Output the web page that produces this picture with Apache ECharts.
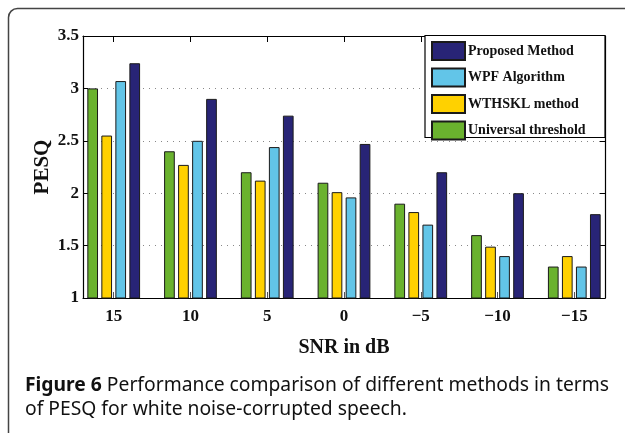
<!DOCTYPE html>
<html>
<head>
<meta charset="utf-8">
<script src="https://cdn.jsdelivr.net/npm/echarts@6/dist/echarts.min.js"></script>
<style>
  html, body { margin: 0; padding: 0; background: #fff; }
  #chart { width: 625px; height: 433px; }
</style>
</head>
<body>
<div id="chart"></div>
<script>
// SNR levels (dB), left to right
var snrLabels = ['15', '10', '5', '0', '\u22125', '\u221210', '\u221215']
var snrPos = [1, 2, 3, 4, 5, 6, 7]

// PESQ
var universalThreshold = [3.00, 2.40, 2.20, 2.10, 1.90, 1.60, 1.30]
var wthsklMethod = [2.55, 2.27, 2.12, 2.01, 1.82, 1.49, 1.40]
var wpfAlgorithm = [3.07, 2.50, 2.44, 1.96, 1.70, 1.40, 1.30]
var proposedMethod = [3.24, 2.90, 2.74, 2.47, 2.20, 2.00, 1.80]

var yTicks = [1, 1.5, 2, 2.5, 3, 3.5]

var serif = '"Liberation Serif", "Times New Roman", serif'

function pairs (vals) {
  return vals.map(function (v, i) { return [snrPos[i], v] })
}

function barSeries (name, vals, color) {
  return {
    name: name,
    type: 'bar',
    data: pairs(vals),
    barWidth: 10.7,
    barGap: '31%',
    itemStyle: { color: color, borderColor: '#1a1a1a', borderWidth: 1, borderJoin: 'miter' }
  }
}

var chart = echarts.init(document.getElementById('chart'))

var xCommon = {
  type: 'value',
  min: 0.6,
  max: 7.4,
  splitLine: { show: false },
  axisLine: { show: true, lineStyle: { color: '#000', width: 1.2 } }
}

var option = {
  animation: false,
  backgroundColor: '#fff',
  grid: { left: 83, right: 20, top: 36, bottom: 135, containLabel: false },
  title: {
    left: 25,
    top: 374,
    padding: 0,
    text: '{b|Figure 6} Performance comparison of different methods in terms\nof PESQ for white noise-corrupted speech.',
    textStyle: {
      fontFamily: '"Noto Sans", sans-serif',
      fontSize: 19.3,
      fontWeight: 'normal',
      color: '#111',
      lineHeight: 24,
      rich: {
        b: { fontFamily: '"Noto Sans", sans-serif', fontSize: 19.3, fontWeight: 'bold', color: '#111', lineHeight: 24 }
      }
    }
  },
  legend: {
    orient: 'vertical',
    left: 431,
    top: 41,
    itemWidth: 33,
    itemHeight: 18,
    itemGap: 6.5,
    padding: 0,
    icon: 'rect',
    itemStyle: { borderJoin: 'miter' },
    z: 5,
    data: ['Proposed Method', 'WPF Algorithm', 'WTHSKL method', 'Universal threshold'],
    textStyle: { fontFamily: serif, fontWeight: 'bold', fontSize: 14, color: '#111', padding: [0, 0, 0, -2] }
  },
  graphic: [
    {
      type: 'rect',
      z: 4,
      shape: { x: 425, y: 35.5, width: 180, height: 102 },
      style: { fill: '#fff', stroke: '#000', lineWidth: 1.2 }
    },
    {
      type: 'rect',
      z: 0,
      silent: true,
      shape: { x: 8.5, y: 8.5, width: 800, height: 600, r: 9 },
      style: { fill: 'none', stroke: '#444', lineWidth: 1.5 }
    }
  ],
  xAxis: [
    Object.assign({}, xCommon, {
      position: 'bottom',
      name: 'SNR in dB',
      nameLocation: 'middle',
      nameGap: 40,
      nameTextStyle: { fontFamily: serif, fontWeight: 'bold', fontSize: 20, color: '#111' },
      axisTick: { show: true, inside: true, length: 6, customValues: snrPos, lineStyle: { color: '#555' } },
      axisLabel: {
        customValues: snrPos,
        margin: 10,
        fontFamily: serif,
        fontWeight: 'bold',
        fontSize: 17,
        color: '#111',
        formatter: function (v) { return snrLabels[snrPos.indexOf(v)] }
      }
    }),
    Object.assign({}, xCommon, {
      position: 'top',
      axisTick: { show: true, inside: true, length: 6, customValues: snrPos, lineStyle: { color: '#000' } },
      axisLabel: { show: false }
    })
  ],
  yAxis: [
    {
      type: 'value',
      min: yTicks[0],
      max: yTicks[yTicks.length - 1],
      interval: 0.5,
      name: 'PESQ',
      nameLocation: 'middle',
      nameGap: 30,
      nameMoveOverlap: false,
      nameRotate: 90,
      nameTextStyle: { fontFamily: serif, fontWeight: 'bold', fontSize: 21, color: '#111' },
      axisLine: { show: true, lineStyle: { color: '#000', width: 1.2 } },
      axisTick: { show: true, inside: true, length: 5, lineStyle: { color: '#000' } },
      axisLabel: { margin: 4, fontFamily: serif, fontWeight: 'bold', fontSize: 17, color: '#111' },
      splitLine: { show: true, lineStyle: { color: '#888', type: [1, 5], width: 1 } }
    },
    {
      type: 'value',
      min: yTicks[0],
      max: yTicks[yTicks.length - 1],
      interval: 0.5,
      position: 'right',
      axisLine: { show: true, lineStyle: { color: '#000', width: 1.2 } },
      axisTick: { show: true, inside: true, length: 5, lineStyle: { color: '#000' } },
      axisLabel: { show: false },
      splitLine: { show: false }
    }
  ],
  series: [
    barSeries('Universal threshold', universalThreshold, '#6ab22e'),
    barSeries('WTHSKL method', wthsklMethod, '#ffd100'),
    barSeries('WPF Algorithm', wpfAlgorithm, '#62c5e8'),
    barSeries('Proposed Method', proposedMethod, '#282476')
  ]
}

chart.setOption(option)
</script>
</body>
</html>
